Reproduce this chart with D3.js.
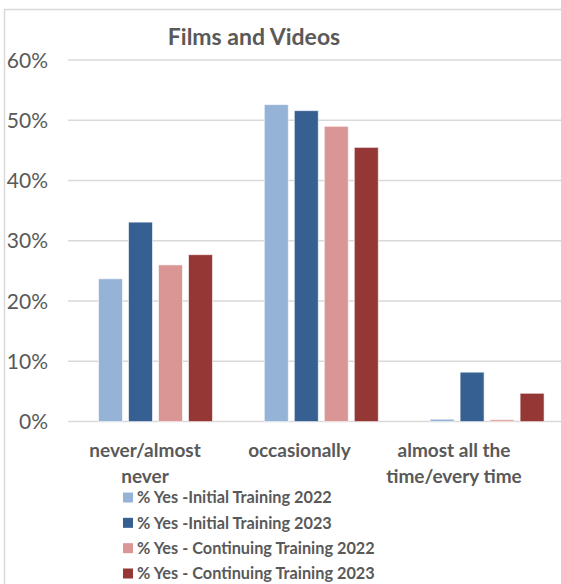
<!DOCTYPE html>
<html><head><meta charset="utf-8">
<script src="https://cdn.jsdelivr.net/npm/d3@7"></script>
<style>html,body{margin:0;padding:0;background:#fff;overflow:hidden;}svg{display:block;}</style>
</head><body>
<script>
const categories = ["never/almost never", "occasionally", "almost all the time/every time"];
const categoryLines = [["never/almost", "never"], ["occasionally"], ["almost all the", "time/every time"]];
const seriesNames = ["% Yes -Initial Training 2022", "% Yes -Initial Training 2023", "% Yes - Continuing Training 2022", "% Yes - Continuing Training 2023"];
const initial2022 = [0.237, 0.526, 0.004];
const initial2023 = [0.331, 0.516, 0.082];
const continuing2022 = [0.260, 0.490, 0.003];
const continuing2023 = [0.277, 0.455, 0.047];
const yTicks = [0, 0.1, 0.2, 0.3, 0.4, 0.5, 0.6];
const colors = ["#95b3d7", "#366092", "#da9694", "#953735"];
const title = "Films and Videos";

const seriesValues = [initial2022, initial2023, continuing2022, continuing2023];
const W = 561, H = 584;
const FONT = "Lato, 'Open Sans', sans-serif";
const svg = d3.select("body").append("svg").attr("width", W).attr("height", H);

// chart border (top and left edges only visible)
svg.append("path").attr("d", `M4.5,${H} L4.5,9.5 L${W},9.5`)
  .attr("fill", "none").attr("stroke", "#d9d9d9").attr("stroke-width", 1.5);

const y = d3.scaleLinear().domain([0, 0.6]).range([421.6, 60]);
const x0 = d3.scaleBand().domain(categories).range([72.6, 570]);
const x1 = d3.scaleBand().domain(seriesNames).range([0, 120]).paddingInner(0.2).paddingOuter(0.1);
const groupOffset = (x0.bandwidth() - 120) / 2;
const xLabel = d3.scalePoint().domain(categories).range([145, 454]);

// gridlines
svg.append("g").selectAll("line").data(yTicks).join("line")
  .attr("x1", 68).attr("x2", W).attr("y1", d => y(d)).attr("y2", d => y(d))
  .attr("stroke", "#d9d9d9").attr("stroke-width", 1.5);

// y labels
svg.append("g").selectAll("text").data(yTicks).join("text")
  .attr("x", 48).attr("y", d => y(d)).attr("dy", "0.36em")
  .attr("text-anchor", "end").attr("fill", "#595959")
  .attr("font-family", FONT).attr("font-size", 21)
  .text(d3.format(".0%"));

// bars
const groups = svg.append("g").selectAll("g").data(categories).join("g")
  .attr("transform", c => `translate(${x0(c) + groupOffset},0)`);
groups.selectAll("rect").data((c, ci) => seriesNames.map((s, si) => ({s, si, v: seriesValues[si][ci]})))
  .join("rect")
  .attr("x", d => x1(d.s)).attr("width", x1.bandwidth())
  .attr("y", d => y(d.v)).attr("height", d => y(0) - y(d.v))
  .attr("fill", d => colors[d.si]).attr("stroke", "#ffffff").attr("stroke-opacity", 0.6).attr("stroke-width", 1);

// x labels
svg.append("g").selectAll("text").data(categories).join("text")
  .attr("x", c => xLabel(c)).attr("y", 457)
  .attr("text-anchor", "middle").attr("fill", "#595959")
  .attr("font-family", FONT).attr("font-size", 19).attr("font-weight", "bold")
  .each(function(c, i) {
    d3.select(this).selectAll("tspan").data(categoryLines[i]).join("tspan")
      .attr("x", xLabel(c)).attr("dy", (d, j) => j === 0 ? 0 : 26).text(d => d);
  });

// title
svg.append("text").attr("x", 254).attr("y", 45).attr("text-anchor", "middle")
  .attr("fill", "#595959").attr("font-family", FONT).attr("font-size", 23).attr("font-weight", "bold")
  .text(title);

// legend
const legendY = d3.scalePoint().domain(seriesNames).range([497.5, 573.5]);
const lg = svg.append("g").selectAll("g").data(seriesNames).join("g")
  .attr("transform", s => `translate(123,${legendY(s)})`);
lg.append("rect").attr("x", 0).attr("y", -5).attr("width", 10).attr("height", 10)
  .attr("fill", (s, i) => colors[i]);
lg.append("text").attr("x", 14).attr("y", 0).attr("dy", "0.36em")
  .attr("fill", "#595959").attr("font-family", FONT).attr("font-size", 16.3).attr("font-weight", "bold")
  .text(s => s);
</script>
</body></html>
